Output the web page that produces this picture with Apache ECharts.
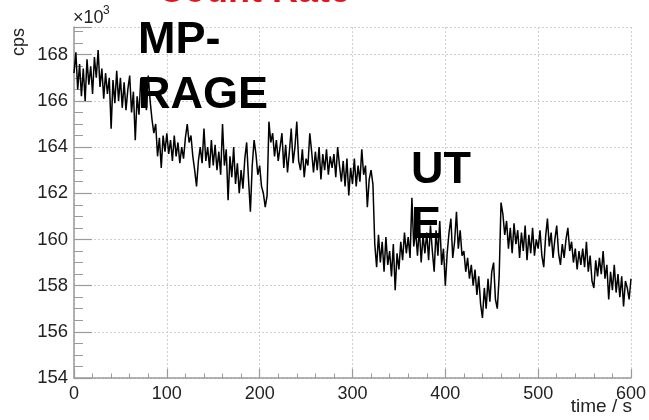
<!DOCTYPE html>
<html>
<head>
<meta charset="utf-8">
<script src="https://cdn.jsdelivr.net/npm/echarts@6/dist/echarts.min.js"></script>
<style>
  html, body { margin: 0; padding: 0; background: #fff; }
  #chart { width: 649px; height: 420px; }
</style>
</head>
<body>
<div id="chart"></div>
<script>
// Sample times (s), one reading every 2 s
const timeSec = [];
for (let t = 0; t <= 600; t += 2) timeSec.push(t);

// Count rate in units of 10^3 cps
const countRateK = [
  167.2, 168.1, 166.5, 167.6, 166.2, 167.4, 166.0, 167.8, 166.7, 167.5,
  166.3, 167.9, 167.0, 168.2, 166.6, 167.4, 166.1, 167.2, 166.3, 167.0,
  164.8, 166.9, 165.9, 167.3, 166.0, 167.0, 165.7, 166.8, 165.6, 166.5,
  167.1, 165.5, 166.4, 164.3, 166.2, 165.4, 167.0, 165.8, 166.6, 165.6,
  167.1, 166.0, 165.2, 164.6, 165.0, 163.6, 164.4, 163.1, 164.5, 163.8,
  164.6, 163.7, 164.3, 163.4, 164.5, 163.6, 164.2, 163.3, 164.0, 163.5,
  164.4, 165.0, 164.2, 164.5, 163.6, 163.0, 162.3, 163.4, 164.0, 163.3,
  164.8, 163.4, 164.0, 163.1, 164.3, 163.2, 164.1, 163.0, 163.8, 162.8,
  165.0, 163.2, 163.9, 161.7, 163.6, 162.7, 164.0, 162.4, 163.3, 162.0,
  163.0, 162.2, 163.5, 164.2, 162.6, 161.2, 163.2, 164.3, 163.7, 162.8,
  163.2, 162.3, 162.0, 161.4, 161.9, 165.1, 164.2, 164.6, 163.6, 164.3,
  163.4, 164.0, 164.6, 163.1, 164.1, 162.9, 163.8, 164.8, 163.3, 164.0,
  165.1, 163.4, 163.0, 163.9, 162.7, 163.5, 163.2, 164.6, 163.8, 162.9,
  163.8, 163.0, 164.0, 162.6, 163.7, 163.0, 163.9, 162.8, 163.6, 163.1,
  163.7, 162.7, 164.0, 163.2, 162.5, 163.4, 162.3, 163.5, 161.9, 163.1,
  162.4, 163.5, 162.3, 163.2, 162.5, 163.9, 162.8, 163.2, 161.4, 162.6,
  163.0, 162.4, 159.8, 158.8, 160.2, 159.0, 159.9, 158.6, 160.1, 158.9,
  159.5, 158.4, 159.8, 157.8, 159.4, 158.7, 159.9, 159.1, 160.3, 159.4,
  160.1, 159.2, 161.8, 159.7, 160.4, 159.3, 160.5, 159.0, 160.2, 159.4,
  160.3, 159.1, 160.6, 159.5, 158.6, 160.4, 159.3, 160.8, 158.9, 159.6,
  158.0, 159.4, 160.3, 160.9, 159.2, 159.9, 161.2, 159.6, 160.4, 159.3,
  159.5, 158.6, 159.2, 158.3, 158.9, 158.0, 158.7, 157.6, 158.4, 157.2,
  156.6, 157.9, 157.0, 158.3, 157.3, 158.6, 159.0, 157.4, 157.0, 158.4,
  161.6, 161.1, 160.2, 160.8, 159.6, 160.5, 159.4, 160.7, 159.8, 160.4,
  159.2, 160.3, 159.5, 160.6, 159.1, 160.2, 159.4, 160.5, 159.3, 160.0,
  159.6, 160.4, 159.3, 158.8, 160.1, 160.9, 159.7, 160.3, 159.2, 160.0,
  160.6, 159.4, 158.9, 159.8, 159.2, 160.0, 160.5, 159.5, 159.9, 159.0,
  159.6, 158.7, 159.5, 158.9, 159.6, 158.8, 159.9, 158.6, 159.3, 158.2,
  157.9, 159.1, 158.4, 159.2, 158.5, 159.5, 158.3, 158.9, 157.4, 158.6,
  157.8, 158.9, 157.7, 158.5, 157.5, 158.4, 157.1, 158.2, 157.9, 157.4,
  158.3
];

// Axis ticks
const xTicks = [0, 100, 200, 300, 400, 500, 600];
const yTicks = [154, 156, 158, 160, 162, 164, 166, 168];

// Annotations
const titleText = 'Count Rate';
const noteMprage = 'MP-\nRAGE';
const noteUte = 'UT\nE';

const FONT = '"Liberation Sans", Arial, sans-serif';
const axisGray = '#9a9a9a';
const gridGray = '#cfcfcf';

const chart = echarts.init(document.getElementById('chart'), null, { renderer: 'canvas' });

chart.setOption({
  animation: false,
  backgroundColor: '#fff',
  grid: { left: 74, right: 17, top: 27, bottom: 42, containLabel: false },
  xAxis: {
    type: 'value',
    min: xTicks[0],
    max: xTicks[xTicks.length - 1],
    interval: xTicks[1] - xTicks[0],
    axisLine: { show: true, lineStyle: { color: axisGray, width: 1.5 } },
    axisTick: { show: true, inside: true, length: 9, lineStyle: { color: axisGray, width: 1.2 } },
    minorTick: { show: true, splitNumber: 5, length: 4.5, lineStyle: { color: axisGray, width: 1 } },
    splitLine: { show: true, lineStyle: { color: gridGray, width: 1, type: [2, 2] } },
    axisLabel: { show: true, margin: 7, color: '#222', fontSize: 18, fontFamily: FONT, showMinLabel: true, showMaxLabel: true }
  },
  yAxis: {
    type: 'value',
    min: yTicks[0],
    max: 169.2,
    interval: yTicks[1] - yTicks[0],
    axisLine: { show: true, lineStyle: { color: axisGray, width: 1.5 } },
    axisTick: { show: true, inside: true, length: 18, lineStyle: { color: axisGray, width: 1.2 } },
    minorTick: { show: true, splitNumber: 4, length: 9, lineStyle: { color: axisGray, width: 1 } },
    splitLine: { show: true, lineStyle: { color: gridGray, width: 1, type: [2, 2] } },
    axisLabel: {
      show: true, margin: 6, color: '#222', fontSize: 18.5, fontFamily: FONT,
      showMinLabel: true, showMaxLabel: false,
      formatter: v => (yTicks.indexOf(v) >= 0 ? String(v) : '')
    }
  },
  series: [{
    type: 'line',
    data: timeSec.map((t, i) => [t, countRateK[i]]),
    showSymbol: false,
    symbol: 'none',
    lineStyle: { color: '#000', width: 1.5 },
    clip: true,
    z: 3
  }],
  graphic: [
    { type: 'text', left: 73, top: 9, style: { text: '×10', font: '18px ' + FONT, fill: '#222' } },
    { type: 'text', left: 103, top: 5, style: { text: '3', font: '12px ' + FONT, fill: '#222' } },
    { type: 'text', left: 10, top: 28, rotation: Math.PI / 2, style: { text: 'cps', font: '18px ' + FONT, fill: '#222' } },
    { type: 'text', right: 17, top: 397, style: { text: 'time / s', font: '19px ' + FONT, fill: '#222' } },
    { type: 'text', left: 158, top: -26, style: { text: titleText, font: 'bold 36px ' + FONT, fill: '#e8111b' } },
    { type: 'text', left: 138, top: 13, z: 10, style: { text: noteMprage, font: 'bold 45px ' + FONT, lineHeight: 55, fill: '#000' } },
    { type: 'text', left: 411, top: 143, z: 10, style: { text: noteUte, font: 'bold 45px ' + FONT, lineHeight: 55, fill: '#000' } }
  ]
});
</script>
</body>
</html>
